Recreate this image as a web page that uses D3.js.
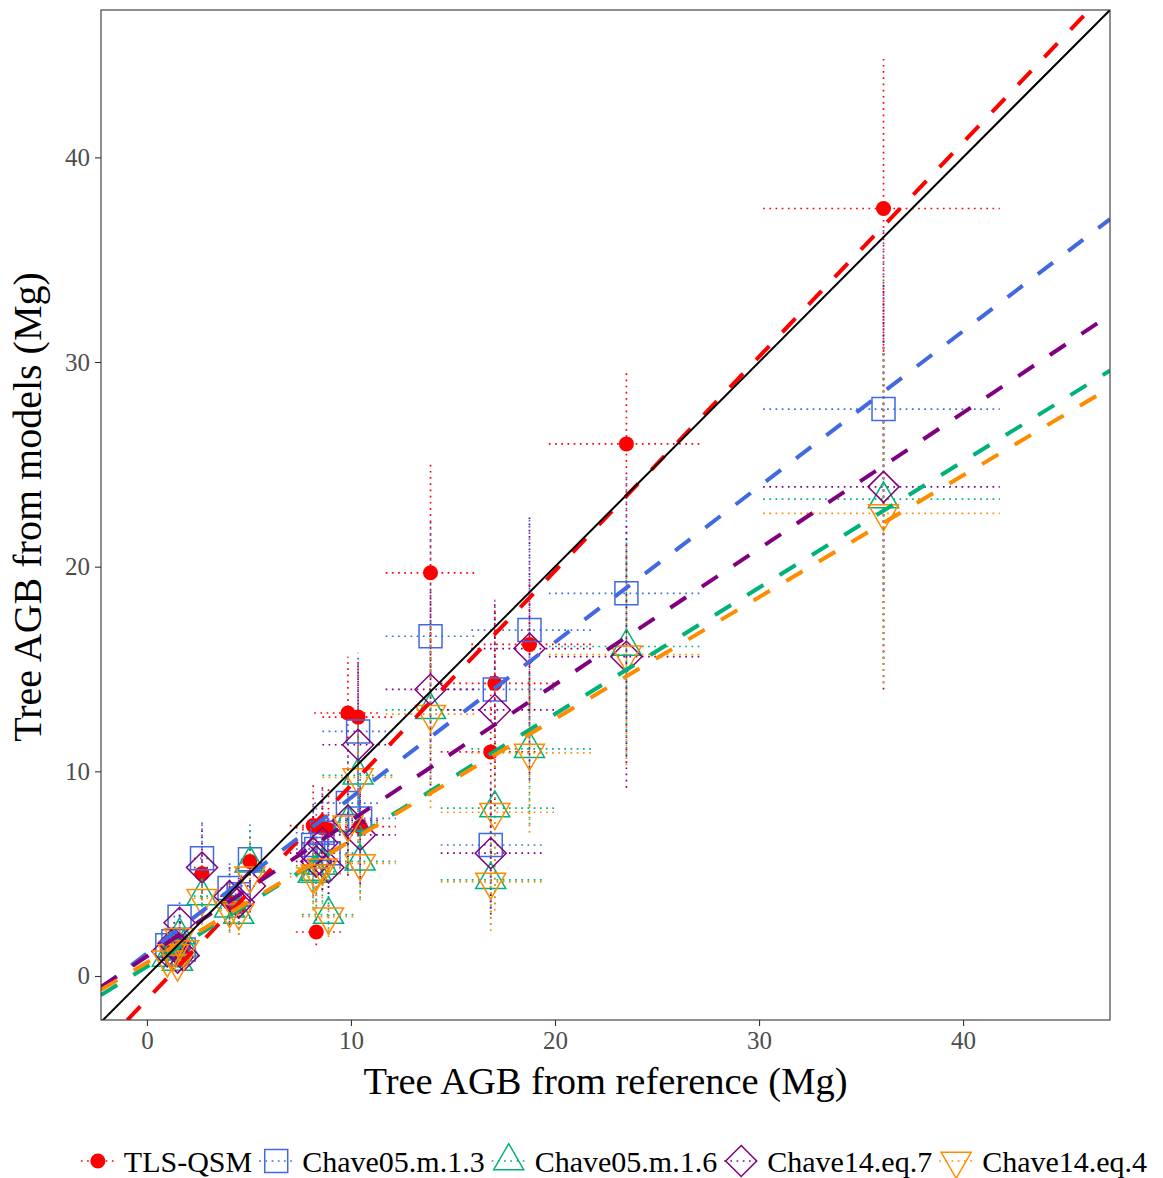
<!DOCTYPE html>
<html>
<head>
<meta charset="utf-8">
<script src="https://cdn.jsdelivr.net/npm/d3@7"></script>
<style>
  body { margin: 0; background: #fff; }
  svg { display: block; font-family: "Liberation Serif", "Times New Roman", serif; }
</style>
</head>
<body>
<div id="chart"></div>
<script>
// Reference AGB per tree (Mg) with its uncertainty range
const refAGB  = [36.1, 23.5, 18.75, 17.05, 16.85, 13.9, 9.85, 10.35, 10.45, 8.15, 8.9, 8.3, 8.6, 2.7, 5.05, 4.05, 4.5, 1.6, 1.0, 1.3, 1.8, 1.5];
const refLow  = [30.2, 19.7, 15.9, 14.4, 14.4, 11.7, 8.2, 8.6, 8.8, 7.0, 7.6, 7.3, 7.3, 2.3, 4.6, 3.6, 4.0, 1.3, 0.8, 1.1, 1.5, 1.2];
const refHigh = [41.8, 27.2, 21.8, 20.1, 19.5, 16.2, 11.4, 12.1, 12.2, 9.4, 10.3, 9.6, 9.9, 3.2, 5.5, 4.5, 5.0, 1.9, 1.2, 1.6, 2.1, 1.8];

// Model estimates (Mg), same tree order
const tlsQSM     = [37.5, 26.0, 16.2, 14.3, 10.95, 19.7, 12.85, 12.65, 7.3, 7.35, 7.15, 2.15, 7.25, 5.0, 5.6, 3.6, 3.4, 1.7, 1.3, 1.6, 1.4, 1.0];
const tlsQSMLow  = [30.5, 22.4, 13.0, 10.2, 7.0, 14.6, 9.8, 9.5, 5.2, 5.3, 5.1, 1.5, 5.2, 3.8, 4.3, 2.6, 2.5, 1.2, 0.9, 1.1, 1.0, 0.7];
const tlsQSMHigh = [44.8, 29.5, 19.4, 18.4, 14.8, 25.0, 15.6, 15.4, 9.4, 9.4, 9.3, 2.9, 9.3, 6.2, 6.9, 4.6, 4.3, 2.2, 1.7, 2.1, 1.8, 1.3];

const chave05m13     = [27.7, 18.7, 16.9, 14.0, 6.4, 16.6, 8.45, 11.95, 7.7, 6.4, 6.0, 6.2, 7.0, 5.75, 5.7, 4.3, 4.0, 2.9, 1.5, 1.7, 1.3, 1.1];
const chave05m13Low  = [18.8, 12.8, 11.3, 9.8, 3.3, 11.5, 5.8, 8.5, 5.3, 4.3, 4.0, 4.2, 4.8, 4.1, 4.0, 3.0, 2.8, 2.0, 1.0, 1.2, 0.9, 0.7];
const chave05m13High = [36.6, 24.6, 22.5, 18.4, 9.5, 22.2, 11.2, 15.8, 10.1, 8.5, 8.1, 8.2, 9.2, 7.5, 7.4, 5.6, 5.3, 3.8, 2.0, 2.3, 1.7, 1.5];

const chave05m16     = [23.3, 16.1, 11.1, 8.2, 4.7, 13.0, 7.5, 9.8, 5.6, 5.0, 3.0, 5.1, 5.4, 3.9, 5.5, 3.3, 3.0, 2.0, 0.9, 1.2, 1.4, 0.7];
const chave05m16Low  = [15.5, 10.8, 7.4, 3.5, 2.5, 8.8, 5.1, 6.5, 3.8, 3.3, 2.0, 3.4, 3.6, 2.6, 3.7, 2.2, 2.0, 1.3, 0.6, 0.8, 0.9, 0.4];
const chave05m16High = [31.2, 21.3, 14.8, 12.0, 7.0, 17.4, 9.9, 13.0, 7.5, 6.8, 4.0, 6.9, 7.3, 5.2, 7.3, 4.4, 4.0, 2.7, 1.2, 1.6, 1.9, 1.0];

const chave14eq7     = [23.9, 15.6, 16.0, 13.0, 6.0, 14.0, 7.6, 11.3, 6.9, 6.0, 5.3, 5.6, 6.5, 5.3, 4.4, 3.9, 3.6, 2.6, 1.2, 1.6, 1.0, 0.9];
const chave14eq7Low  = [14.0, 9.2, 9.6, 8.3, 3.0, 9.0, 4.9, 7.5, 4.5, 3.8, 3.4, 3.6, 4.2, 3.4, 2.8, 2.5, 2.3, 1.7, 0.7, 1.0, 0.6, 0.5];
const chave14eq7High = [33.8, 22.0, 22.4, 18.0, 9.2, 18.8, 10.3, 15.2, 9.3, 8.2, 7.3, 7.7, 8.8, 7.4, 6.0, 5.4, 5.0, 3.5, 1.7, 2.2, 1.4, 1.3];

const chave14eq4     = [22.6, 15.7, 10.9, 8.0, 4.6, 12.8, 7.4, 9.7, 5.5, 4.85, 2.9, 5.0, 5.3, 3.8, 4.9, 3.2, 3.1, 1.9, 0.8, 1.1, 1.3, 0.6];
const chave14eq4Low  = [14.3, 10.3, 7.0, 3.2, 2.2, 8.2, 5.0, 6.3, 3.7, 3.2, 1.9, 3.3, 3.5, 2.5, 3.2, 2.1, 2.0, 1.2, 0.5, 0.7, 0.8, 0.4];
const chave14eq4High = [30.8, 21.2, 14.6, 11.9, 6.9, 17.1, 9.8, 12.9, 7.4, 6.6, 3.9, 6.8, 7.2, 5.1, 6.6, 4.3, 4.2, 2.6, 1.1, 1.5, 1.8, 0.9];

// Linear fits (y = a + b * x)
const seriesNames  = ["TLS-QSM", "Chave05.m.1.3", "Chave05.m.1.6", "Chave14.eq.7", "Chave14.eq.4"];
const fitIntercept = [-1.15, 1.11, 0.46, 0.96, 0.66];
const fitSlope     = [1.047, 0.76, 0.617, 0.664, 0.595];

const xTicks = [0, 10, 20, 30, 40];
const yTicks = [0, 10, 20, 30, 40];

const colors = ["#FF0000", "#4169E1", "#00B27A", "#800080", "#FF8C00"];
const shapes = ["circle", "square", "triangle", "diamond", "triangleDown"];
const values = [tlsQSM, chave05m13, chave05m16, chave14eq7, chave14eq4];
const lows   = [tlsQSMLow, chave05m13Low, chave05m16Low, chave14eq7Low, chave14eq4Low];
const highs  = [tlsQSMHigh, chave05m13High, chave05m16High, chave14eq7High, chave14eq4High];

const width = 1163, height = 1178;
const plot = { left: 101, right: 1110, top: 10, bottom: 1020 };

const x = d3.scaleLinear().domain([-2.25, 47.2]).range([plot.left, plot.right]);
const y = d3.scaleLinear().domain([-2.15, 47.2]).range([plot.bottom, plot.top]);

const svg = d3.select("#chart").append("svg")
  .attr("width", width)
  .attr("height", height);

svg.append("rect").attr("width", width).attr("height", height).attr("fill", "#fff");

svg.append("clipPath").attr("id", "panel")
  .append("rect")
  .attr("x", plot.left).attr("y", plot.top)
  .attr("width", plot.right - plot.left).attr("height", plot.bottom - plot.top);

function shapePath(shape) {
  const p = d3.path();
  if (shape === "circle") {
    p.arc(0, 0, 7.5, 0, 2 * Math.PI);
  } else if (shape === "square") {
    p.rect(-11.5, -11.5, 23, 23);
  } else if (shape === "diamond") {
    p.moveTo(0, -15.5); p.lineTo(15.5, 0); p.lineTo(0, 15.5); p.lineTo(-15.5, 0); p.closePath();
  } else if (shape === "triangle") {
    p.moveTo(0, -17.3); p.lineTo(15, 8.65); p.lineTo(-15, 8.65); p.closePath();
  } else {
    p.moveTo(0, 17.3); p.lineTo(15, -8.65); p.lineTo(-15, -8.65); p.closePath();
  }
  return p.toString();
}

const g = svg.append("g").attr("clip-path", "url(#panel)");
const dotted = "1.7 4.5";

// error bars: vertical (model uncertainty), then horizontal (reference uncertainty)
seriesNames.forEach((name, s) => {
  g.append("g").selectAll("line")
    .data(refAGB)
    .join("line")
    .attr("x1", d => x(d)).attr("x2", d => x(d))
    .attr("y1", (d, i) => y(lows[s][i])).attr("y2", (d, i) => y(highs[s][i]))
    .attr("stroke", colors[s]).attr("stroke-width", 1.7)
    .attr("stroke-dasharray", dotted);
});
seriesNames.forEach((name, s) => {
  g.append("g").selectAll("line")
    .data(values[s])
    .join("line")
    .attr("x1", (d, i) => x(refLow[i])).attr("x2", (d, i) => x(refHigh[i]))
    .attr("y1", d => y(d)).attr("y2", d => y(d))
    .attr("stroke", colors[s]).attr("stroke-width", 1.7)
    .attr("stroke-dasharray", dotted);
});

// points
seriesNames.forEach((name, s) => {
  g.append("g").selectAll("path")
    .data(values[s])
    .join("path")
    .attr("transform", (d, i) => `translate(${x(refAGB[i])},${y(d)})`)
    .attr("d", shapePath(shapes[s]))
    .attr("fill", shapes[s] === "circle" ? colors[s] : "none")
    .attr("stroke", shapes[s] === "circle" ? "none" : colors[s])
    .attr("stroke-width", 1.5);
});

// fitted dashed lines across the full panel
const xDomain = x.domain();
const line = d3.line().x(d => x(d[0])).y(d => y(d[1]));
seriesNames.forEach((name, s) => {
  const pts = xDomain.map(v => [v, fitIntercept[s] + fitSlope[s] * v]);
  g.append("path")
    .attr("d", line(pts))
    .attr("fill", "none")
    .attr("stroke", colors[s])
    .attr("stroke-width", 4)
    .attr("stroke-dasharray", "19 19");
});

// 1:1 line
g.append("path")
  .attr("d", line([[xDomain[0], xDomain[0]], [xDomain[1], xDomain[1]]]))
  .attr("fill", "none")
  .attr("stroke", "#000")
  .attr("stroke-width", 2);

// axes
const xAxis = d3.axisBottom(x).tickValues(xTicks).tickSize(6).tickPadding(5).tickSizeOuter(0);
const yAxis = d3.axisLeft(y).tickValues(yTicks).tickSize(6).tickPadding(5).tickSizeOuter(0);

const gx = svg.append("g").attr("transform", `translate(0,${plot.bottom})`).call(xAxis);
const gy = svg.append("g").attr("transform", `translate(${plot.left},0)`).call(yAxis);
[gx, gy].forEach(a => {
  a.select(".domain").remove();
  a.selectAll(".tick line").attr("stroke", "#333").attr("stroke-width", 1.1);
  a.selectAll(".tick text")
    .attr("fill", "#4D4D4D")
    .style("font-family", "'Liberation Serif', serif")
    .style("font-size", "25px");
});

// panel border
svg.append("rect")
  .attr("x", plot.left).attr("y", plot.top)
  .attr("width", plot.right - plot.left).attr("height", plot.bottom - plot.top)
  .attr("fill", "none").attr("stroke", "#333").attr("stroke-width", 1.1);

// axis titles
svg.append("text")
  .attr("x", (plot.left + plot.right) / 2).attr("y", 1094)
  .attr("text-anchor", "middle")
  .style("font-size", "38.5px")
  .text("Tree AGB from reference (Mg)");

svg.append("text")
  .attr("transform", "translate(41,507) rotate(-90)")
  .attr("text-anchor", "middle")
  .style("font-size", "40px")
  .text("Tree AGB from models (Mg)");

// legend
const legend = svg.append("g");
let cursor = 0;
seriesNames.forEach((name, s) => {
  const item = legend.append("g").attr("transform", `translate(${cursor},0)`);
  item.append("line")
    .attr("x1", 0).attr("x2", 34).attr("y1", 0).attr("y2", 0)
    .attr("stroke", colors[s]).attr("stroke-width", 1.7)
    .attr("stroke-dasharray", dotted);
  item.append("path")
    .attr("transform", "translate(17,0)")
    .attr("d", shapePath(shapes[s]))
    .attr("fill", shapes[s] === "circle" ? colors[s] : "none")
    .attr("stroke", shapes[s] === "circle" ? "none" : colors[s])
    .attr("stroke-width", 1.5);
  const label = item.append("text")
    .attr("x", 43).attr("y", 10.5)
    .style("font-size", "30px")
    .text(name);
  cursor += 43 + label.node().getComputedTextLength() + 7;
});
const legendWidth = cursor - 7;
legend.attr("transform", `translate(${614 - legendWidth / 2},1161)`);
</script>
</body>
</html>
